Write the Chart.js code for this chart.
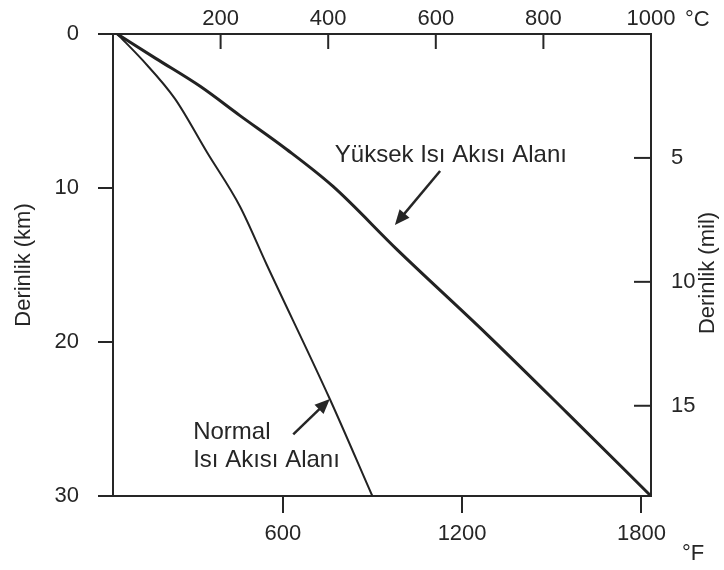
<!DOCTYPE html>
<html>
<head>
  <meta charset="utf-8">
  <title>Derinlik - Sicaklik</title>
  <script src="https://cdn.jsdelivr.net/npm/chart.js@4.4.1/dist/chart.umd.min.js"></script>
  <style>
    body { margin: 0; background: #fff; }
    canvas { display: block; }
  </style>
</head>
<body>
  <canvas id="geoChart" width="724" height="570"></canvas>

  <script>
    // values: temperature in °C, depth in km
    const yuksekTemp  = [8, 80, 162, 236, 323, 409, 528, 695, 844, 1000];
    const yuksekDepth = [0, 1.6, 3.4, 5.3, 7.5, 9.9, 14.0, 19.5, 24.6, 30];
    const normalTemp  = [8, 55, 115, 175, 236, 286, 403, 482];
    const normalDepth = [0, 1.7, 4.2, 7.7, 11.2, 15.0, 23.7, 30];

    const celsiusTicks = [200, 400, 600, 800, 1000];
    const fahrenheitTicks = [600, 1200, 1800];
    const kmTicks = [0, 10, 20, 30];
    const mileTicks = [5, 10, 15];

    const ink = '#262626';
    const fontFamily = '"Liberation Sans", Arial, sans-serif';
    Chart.defaults.font.family = fontFamily;
    Chart.defaults.color = ink;

    const toPoints = (xs, ys) => xs.map((x, i) => ({ x: x, y: ys[i] }));
    const fixTicks = list => scale => { scale.ticks = list.map(v => ({ value: v })); };
    const plain = v => String(v);

    // inward tick marks, annotations, right axis title
    const extras = {
      id: 'extras',
      afterDraw(chart) {
        const { ctx, chartArea, scales } = chart;
        const c = scales.c, y = scales.y, mil = scales.mil;
        ctx.save();
        ctx.strokeStyle = ink;
        ctx.fillStyle = ink;
        ctx.lineWidth = 2;

        celsiusTicks.forEach(v => {
          if (v >= 1000) return;
          const px = c.getPixelForValue(v);
          ctx.beginPath();
          ctx.moveTo(px, chartArea.top);
          ctx.lineTo(px, chartArea.top + 15);
          ctx.stroke();
        });
        mileTicks.forEach(v => {
          const py = mil.getPixelForValue(v);
          ctx.beginPath();
          ctx.moveTo(chartArea.right - 17, py);
          ctx.lineTo(chartArea.right, py);
          ctx.stroke();
        });

        function arrow(t1, d1, t2, d2) {
          const x1 = c.getPixelForValue(t1), y1 = y.getPixelForValue(d1);
          const x2 = c.getPixelForValue(t2), y2 = y.getPixelForValue(d2);
          const a = Math.atan2(y2 - y1, x2 - x1);
          ctx.lineWidth = 2.5;
          ctx.beginPath();
          ctx.moveTo(x1, y1);
          ctx.lineTo(x2 - 8 * Math.cos(a), y2 - 8 * Math.sin(a));
          ctx.stroke();
          ctx.beginPath();
          ctx.moveTo(x2, y2);
          ctx.lineTo(x2 - 15 * Math.cos(a) + 6.5 * Math.sin(a), y2 - 15 * Math.sin(a) - 6.5 * Math.cos(a));
          ctx.lineTo(x2 - 15 * Math.cos(a) - 6.5 * Math.sin(a), y2 - 15 * Math.sin(a) + 6.5 * Math.cos(a));
          ctx.closePath();
          ctx.fill();
        }

        ctx.font = '24px ' + fontFamily;
        ctx.textBaseline = 'middle';
        ctx.textAlign = 'center';
        ctx.fillText('Yüksek Isı Akısı Alanı', c.getPixelForValue(628), y.getPixelForValue(7.9));
        arrow(608, 8.9, 524, 12.4);

        ctx.textAlign = 'left';
        ctx.fillText('Normal', c.getPixelForValue(149), y.getPixelForValue(25.9));
        ctx.fillText('Isı Akısı Alanı', c.getPixelForValue(149), y.getPixelForValue(27.7));
        arrow(335, 26.0, 403, 23.7);

        ctx.font = '22px ' + fontFamily;
        ctx.fillText('°C', chartArea.right + 34, 20);
        ctx.fillText('°F', chartArea.right + 31, 554);

        ctx.translate(708, (chartArea.top + chartArea.bottom) / 2 + 8);
        ctx.rotate(-Math.PI / 2);
        ctx.textAlign = 'center';
        ctx.fillText('Derinlik (mil)', 0, 0);
        ctx.restore();
      }
    };

    const ctx = document.getElementById('geoChart').getContext('2d');
    new Chart(ctx, {
      type: 'scatter',
      data: {
        datasets: [
          {
            label: 'Yüksek Isı Akısı Alanı',
            data: toPoints(yuksekTemp, yuksekDepth),
            xAxisID: 'c',
            yAxisID: 'y',
            showLine: true,
            borderColor: '#222222',
            borderWidth: 3,
            pointRadius: 0,
            cubicInterpolationMode: 'monotone'
          },
          {
            label: 'Normal Isı Akısı Alanı',
            data: toPoints(normalTemp, normalDepth),
            xAxisID: 'c',
            yAxisID: 'y',
            showLine: true,
            borderColor: '#222222',
            borderWidth: 2,
            pointRadius: 0,
            cubicInterpolationMode: 'monotone'
          }
        ]
      },
      options: {
        responsive: false,
        animation: false,
        devicePixelRatio: 1,
        layout: { padding: 0 },
        plugins: { legend: { display: false }, tooltip: { enabled: false } },
        scales: {
          c: {
            type: 'linear',
            position: 'top',
            min: 0,
            max: 1000,
            afterBuildTicks: fixTicks(celsiusTicks),
            afterFit: s => { s.height = 34; },
            grid: { display: false },
            border: { display: true, color: ink, width: 2 },
            ticks: { font: { size: 22 }, padding: -6, maxRotation: 0, callback: plain }
          },
          f: {
            type: 'linear',
            position: 'bottom',
            min: 32,
            max: 1832,
            afterBuildTicks: fixTicks(fahrenheitTicks),
            afterFit: s => { s.height = 74; },
            grid: { drawOnChartArea: false, drawTicks: true, tickLength: 17, color: ink, lineWidth: 2 },
            border: { display: true, color: ink, width: 2 },
            ticks: { font: { size: 22 }, padding: 8, maxRotation: 0, callback: plain }
          },
          y: {
            type: 'linear',
            position: 'left',
            reverse: true,
            min: 0,
            max: 30,
            afterBuildTicks: fixTicks(kmTicks),
            afterFit: s => { s.width = 113; },
            grid: { drawOnChartArea: false, drawTicks: true, tickLength: 15, color: ink, lineWidth: 2 },
            border: { display: true, color: ink, width: 2 },
            ticks: { font: { size: 22 }, padding: 19, callback: plain },
            title: { display: true, text: 'Derinlik (km)', font: { size: 22 }, padding: { top: 11 } }
          },
          mil: {
            type: 'linear',
            position: 'right',
            reverse: true,
            min: 0,
            max: 30 / 1.609344,
            afterBuildTicks: fixTicks(mileTicks),
            afterFit: s => { s.width = 73; },
            grid: { display: false },
            border: { display: true, color: ink, width: 2 },
            ticks: { font: { size: 22 }, padding: 12, callback: plain }
          }
        }
      },
      plugins: [extras]
    });
  </script>
</body>
</html>
